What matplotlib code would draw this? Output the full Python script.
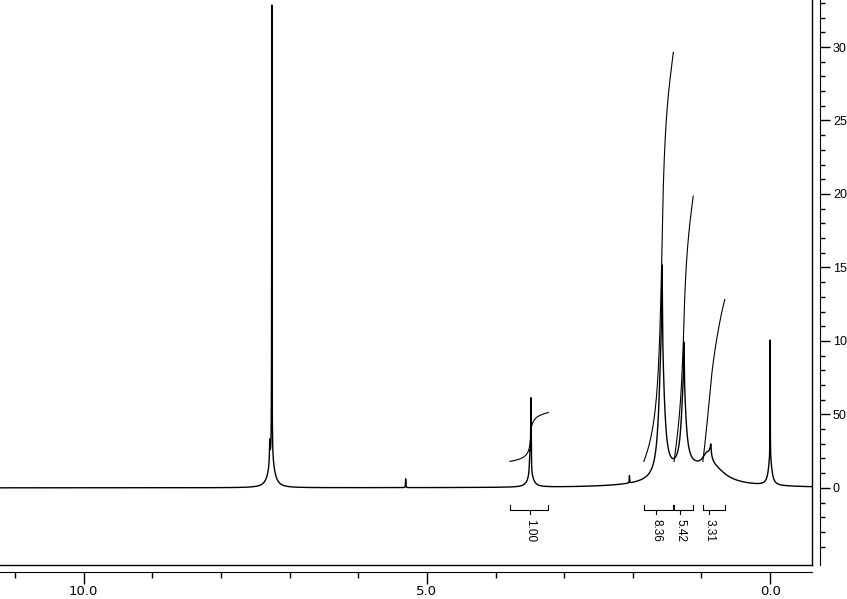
import numpy as np
import matplotlib
matplotlib.use('Agg')
import matplotlib.pyplot as plt

# peak table: position (ppm), height, half width (ppm)
peak_ppm = [7.260, 7.290, 7.265, 5.310, 3.485, 3.500, 3.490, 2.050,
            1.575, 1.580, 1.255, 1.260, 1.200, 0.920, 0.870, 0.865, 0.800,
            0.000, 0.000]
peak_height = [311, 15, 20, 6, 50, 14, 8, 5,
               55, 90, 30, 55, 12, 10, 6, 4, 6,
               82, 18]
peak_hw = [0.0025, 0.005, 0.05, 0.003, 0.004, 0.008, 0.05, 0.003,
           0.006, 0.045, 0.005, 0.04, 0.40, 0.08, 0.02, 0.004, 0.20,
           0.002, 0.03]

# integrals
int_start = [3.79, 1.84, 1.40, 0.98]
int_end = [3.23, 1.41, 1.12, 0.66]
int_value = [1.00, 8.36, 5.42, 3.31]
int_text = ['1.00', '8.36', '5.42', '3.31']
int_mark = [3.50, 1.66, 1.31, 0.89]

x_left, x_right = 11.22, -0.61
y_low, y_high = -52.5, 332

ppm = np.linspace(x_left, x_right, 24000)
spec = np.zeros_like(ppm)
for p, h, w in zip(peak_ppm, peak_height, peak_hw):
    spec += h / (1 + ((ppm - p) / w) ** 2)

fig = plt.figure(figsize=(8.47, 5.99), dpi=100)
W, H = 847, 599

ax = fig.add_axes([0, 34 / H, 812 / W, 565 / H])
ax.plot(ppm, spec, color='black', lw=1.0)

offset, scale = 18, 33.3
for s, e, v in zip(int_start, int_end, int_value):
    m = (ppm <= s) & (ppm >= e)
    c = np.cumsum(spec[m])
    c = c - c[0]
    ax.plot(ppm[m], offset + v * scale * c / c[-1], color='black', lw=0.8)

yb, yb_up, yb_dn, y_txt = -15.3, -11.9, -18.0, -21.5
for s, e, c, t in zip(int_start, int_end, int_mark, int_text):
    ax.plot([s, s, e, e], [yb_up, yb, yb, yb_up], color='black', lw=0.8)
    ax.plot([c, c], [yb, yb_dn], color='black', lw=0.8)
    ax.text(c, y_txt, t, rotation=-90, ha='center', va='top',
            fontsize=8.5, family=['Liberation Sans', 'DejaVu Sans'])

ax.set_xlim(x_left, x_right)
ax.set_ylim(y_low, y_high)
ax.set_xticks([])
ax.set_yticks([])
for sp in ['left', 'top']:
    ax.spines[sp].set_visible(False)
for sp in ['right', 'bottom']:
    ax.spines[sp].set_linewidth(1)

# ppm axis
ax2 = fig.add_axes([0, 27 / H, 812 / W, 1e-4])
ax2.set_xlim(x_left, x_right)
ax2.set_yticks([])
for sp in ['left', 'right', 'top']:
    ax2.spines[sp].set_visible(False)
ax2.set_xticks([10, 5, 0])
ax2.set_xticklabels(['10.0', '5.0', '0.0'], family=['Liberation Sans Narrow', 'DejaVu Sans'])
ax2.set_xticks([11, 9, 8, 7, 6, 4, 3, 2, 1], minor=True)
ax2.tick_params(axis='x', which='major', length=8.6, width=1, pad=1, labelsize=9.5)
ax2.tick_params(axis='x', which='minor', length=4.3, width=1)

# intensity axis
ax3 = fig.add_axes([820 / W, 34 / H, 1e-4, 565 / H])
ax3.set_ylim(y_low, y_high)
ax3.set_xticks([])
for sp in ['left', 'top', 'bottom']:
    ax3.spines[sp].set_visible(False)
ax3.yaxis.tick_right()
ax3.set_yticks([0, 50, 100, 150, 200, 250, 300])
ax3.set_yticklabels(['0', '50', '10', '15', '20', '25', '30'],
                    family=['Liberation Sans', 'DejaVu Sans'])
ax3.set_yticks([v for v in range(-50, 331, 10) if v % 50 != 0], minor=True)
ax3.tick_params(axis='y', which='major', length=7.2, width=1, pad=2, labelsize=9)
ax3.tick_params(axis='y', which='minor', length=3.6, width=1)

fig.savefig('out.png', dpi=100)
